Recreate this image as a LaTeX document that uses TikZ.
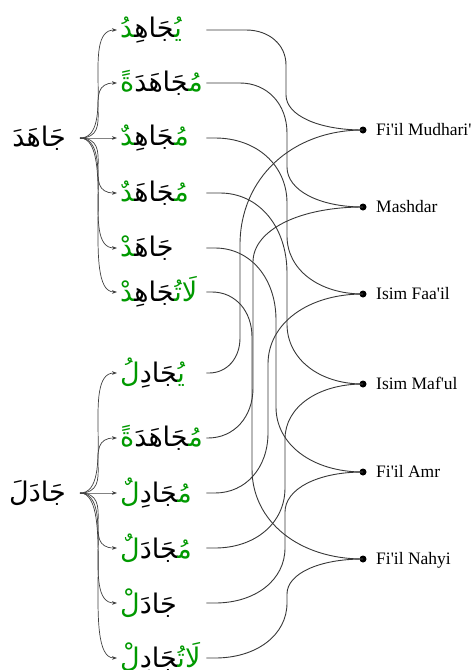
\documentclass[tikz,border=0pt]{standalone}
\usepackage{fontspec}
\usetikzlibrary{arrows.meta,calc}
\newfontfamily\arabicfont[Script=Arabic]{DejaVu Sans}
\newfontfamily\labfont{Liberation Serif}
\definecolor{grn}{rgb}{0,0.6,0}
\definecolor{wirec}{gray}{0.22}
\newcommand\zj{^^^^200d}
\newcommand\G[1]{\textcolor{grn}{#1}}
\newcommand\AR[1]{{\arabicfont\fontsize{27}{30}\selectfont #1}}
\newcommand\kidtext[1]{\makebox[83pt][l]{\AR{#1}}}
% #1 child, #2 dot, #3 x of vertical run, #4 start-corner height, #5 end-corner height, #6 start-corner width
\newcommand\wire[6]{%
 \draw[wire] let \p1=(#1.east), \p2=(#2.center), \n1={ifthenelse(\y2<\y1,-1,1)} in
  (\p1) -- ({#3pt-#6pt},{\y1})
  .. controls ({#3pt-0.42*#6pt},{\y1}) and ({#3pt},{\y1+\n1*0.42*#4pt}) .. ({#3pt},{\y1+\n1*#4pt})
  -- ({#3pt},{\y2-\n1*#5pt})
  .. controls ({#3pt},{\y2-\n1*0.42*#5pt}) and ({0.42*\x2+0.58*#3pt},{\y2}) .. (\p2);}
\tikzset{
 kid/.style={anchor=west, inner xsep=3pt, inner ysep=2pt},
 root/.style={anchor=east, inner xsep=14pt},
 fan/.style={draw=black!75, line width=0.7pt, -{Stealth[length=5pt,width=3.6pt]}},
 wire/.style={draw=wirec, line width=0.9pt},
 dot/.style={circle, fill=black, inner sep=0pt, minimum size=7pt},
 lab/.style={anchor=base west, inner sep=0pt, font=\labfont\fontsize{17.5}{20}\selectfont},
}
\begin{document}
\begin{tikzpicture}[x=1pt,y=1pt]
\useasboundingbox (0,0) rectangle (473,-670);
% roots
\node[root] (r1) at (80,-138) {\AR{جَاهَدَ}};
\node[root] (r2) at (80,-493) {\AR{جَادَلَ}};
% children of first root (pieces in visual left-to-right order)
\node[kid] (t1) at (117,-30)  {\kidtext{\G{\zj دُ}\zj جَاهِ\zj\G{يُ\zj}}};
\node[kid] (t2) at (117,-83)  {\kidtext{\G{ةً}\zj جَاهَدَ\G{مُ\zj}}};
\node[kid] (t3) at (117,-138) {\kidtext{\G{\zj دٌ}\zj جَاهِ\zj\G{مُ\zj}}};
\node[kid] (t4) at (117,-193) {\kidtext{\G{\zj دٌ}\zj جَاهَ\zj\G{مُ\zj}}};
\node[kid] (t5) at (117,-248) {\kidtext{\G{\zj دْ}جَاهَ\zj}};
\node[kid] (t6) at (117,-292) {\kidtext{\G{\zj دْ}\zj جَاهِ\zj\G{لَاتُ\zj}}};
% children of second root
\node[kid] (b1) at (117,-373) {\kidtext{\G{لُ}\zj جَادِ\G{يُ\zj}}};
\node[kid] (b2) at (117,-438) {\kidtext{\G{ةً}\zj جَاهَدَ\G{مُ\zj}}};
\node[kid] (b3) at (117,-493) {\kidtext{\G{لٌ}\zj جَادِ\G{مُ\zj}}};
\node[kid] (b4) at (117,-548) {\kidtext{\G{لٌ}\zj جَادَ\G{مُ\zj}}};
\node[kid] (b5) at (117,-603) {\kidtext{\G{لْ}جَادَ}};
\node[kid] (b6) at (117,-658) {\kidtext{\G{لْ}\zj جَادِ\G{لَاتُ\zj}}};
% dots and labels
\node[dot] (d1) at (363,-130) {};
\node[dot] (d2) at (363,-207) {};
\node[dot] (d3) at (363,-294) {};
\node[dot] (d4) at (363,-384) {};
\node[dot] (d5) at (363,-472) {};
\node[dot] (d6) at (363,-559) {};
\node[lab] (l1) at (376,-135) {Fi'il Mudhari'};
\node[lab] (l2) at (376,-212) {Mashdar};
\node[lab] (l3) at (376,-299) {Isim Faa'il};
\node[lab] (l4) at (376,-389) {Isim Maf'ul};
\node[lab] (l5) at (376,-477) {Fi'il Amr};
\node[lab] (l6) at (376,-564) {Fi'il Nahyi};
% fans
\foreach \k in {t1,t2,t3,t4,t5,t6}
  \draw[fan] (r1.east) .. controls (\k.west |- r1.east) and (r1.east |- \k.west) .. (\k.west);
\foreach \k in {b1,b2,b3,b4,b5,b6}
  \draw[fan] (r2.east) .. controls (\k.west |- r2.east) and (r2.east |- \k.west) .. (\k.west);
% wires
\wire{t1}{d1}{286}{35}{35}{40}
\wire{t2}{d2}{287}{50}{40}{47}
\wire{t3}{d3}{287}{65}{58}{72}
\wire{t4}{d4}{287}{80}{60}{67}
\wire{t5}{d5}{276}{72}{65}{61}
\wire{t6}{d6}{252}{45}{90}{40}
\wire{b1}{d1}{240}{35}{115}{31}
\wire{b2}{d2}{253}{50}{55}{45}
\wire{b3}{d3}{268}{60}{70}{53}
\wire{b4}{d4}{285}{60}{55}{70}
\wire{b5}{d5}{285}{55}{40}{70}
\wire{b6}{d6}{287}{55}{35}{72}
\end{tikzpicture}
\end{document}
